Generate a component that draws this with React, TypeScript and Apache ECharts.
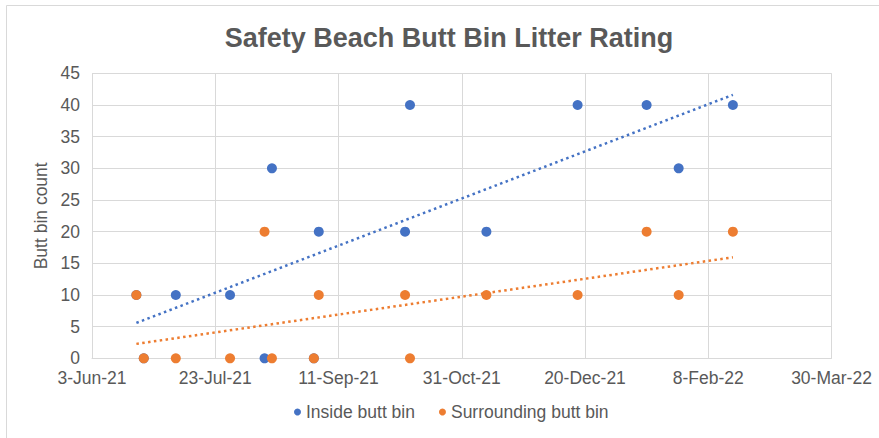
import React, { useEffect, useRef } from "react";
import * as echarts from "echarts";

const chartTitle = "Safety Beach Butt Bin Litter Rating";
const yAxisTitle = "Butt bin count";
const seriesNames = ["Inside butt bin", "Surrounding butt bin"];
const baseDate = "2021-06-03";
const xTickStepDays = 50;
const xMaxDays = 300;
const yMax = 45;
const yStep = 5;

const surveyDates = [
  "2021-06-21",
  "2021-06-24",
  "2021-07-07",
  "2021-07-29",
  "2021-08-12",
  "2021-08-15",
  "2021-09-01",
  "2021-09-03",
  "2021-10-08",
  "2021-10-10",
  "2021-11-10",
  "2021-12-17",
  "2022-01-14",
  "2022-01-27",
  "2022-02-18",
];
const insideBin = [10, 0, 10, 10, 0, 30, 0, 20, 20, 40, 20, 40, 40, 30, 40];
const surroundingBin = [10, 0, 0, 0, 20, 0, 0, 10, 10, 0, 10, 10, 20, 10, 20];

const BLUE = "#4472C4";
const ORANGE = "#ED7D31";
const TEXT = "#595959";
const GRID = "#D9D9D9";
const FONT = "'Liberation Sans', Arial, sans-serif";
const MONTHS = ["Jan", "Feb", "Mar", "Apr", "May", "Jun", "Jul", "Aug", "Sep", "Oct", "Nov", "Dec"];
const DAY_MS = 86400000;

function toUTC(s: string) {
  const [y, m, d] = s.split("-").map(Number);
  return Date.UTC(y, m - 1, d);
}
const baseMs = toUTC(baseDate);
function dayOffset(s: string) {
  return Math.round((toUTC(s) - baseMs) / DAY_MS);
}
function fmtDay(v: number) {
  const dt = new Date(baseMs + v * DAY_MS);
  const yy = String(dt.getUTCFullYear() % 100).padStart(2, "0");
  return `${dt.getUTCDate()}-${MONTHS[dt.getUTCMonth()]}-${yy}`;
}
function trend(xs: number[], ys: number[]) {
  const n = xs.length;
  const mx = xs.reduce((a, b) => a + b, 0) / n;
  const my = ys.reduce((a, b) => a + b, 0) / n;
  let sxy = 0;
  let sxx = 0;
  for (let i = 0; i < n; i++) {
    sxy += (xs[i] - mx) * (ys[i] - my);
    sxx += (xs[i] - mx) * (xs[i] - mx);
  }
  const b = sxy / sxx;
  const a = my - b * mx;
  const x0 = Math.min(...xs);
  const x1 = Math.max(...xs);
  return [
    [x0, a + b * x0],
    [x1, a + b * x1],
  ];
}

export default function App() {
  const ref = useRef<HTMLDivElement>(null);
  useEffect(() => {
    if (!ref.current) return;
    const chart = echarts.init(ref.current, undefined, { renderer: "svg" });
    const xs = surveyDates.map(dayOffset);
    const insidePts = xs.map((x, i) => [x, insideBin[i]]);
    const surrPts = xs.map((x, i) => [x, surroundingBin[i]]);
    const insideTrend = trend(xs, insideBin);
    const surrTrend = trend(xs, surroundingBin);

    chart.setOption({
      animation: false,
      backgroundColor: "#FFFFFF",
      textStyle: { fontFamily: FONT },
      graphic: [
        {
          type: "rect",
          z: -10,
          shape: { x: 6.5, y: 5.5, width: 1200, height: 1000 },
          style: { fill: "none", stroke: GRID, lineWidth: 1 },
          silent: true,
        },
        {
          type: "text",
          x: 449,
          y: 38,
          style: {
            text: chartTitle,
            fill: TEXT,
            font: `bold 27px ${FONT}`,
            textAlign: "center",
            textVerticalAlign: "middle",
          },
        },
      ],
      grid: { left: 92, right: 47.5, top: 73.3, bottom: 79.7, containLabel: false },
      legend: {
        data: seriesNames,
        left: 294,
        top: 403,
        padding: 0,
        itemWidth: 7,
        itemHeight: 7,
        itemGap: 24,
        icon: "circle",
        textStyle: { color: TEXT, fontSize: 17.5, fontFamily: FONT },
      },
      xAxis: {
        type: "value",
        min: 0,
        max: xMaxDays,
        interval: xTickStepDays,
        axisLine: { show: true, lineStyle: { color: GRID, width: 1 } },
        axisTick: { show: false },
        axisLabel: {
          color: TEXT,
          fontSize: 17.5,
          margin: 11,
          formatter: (v: number) => fmtDay(v),
        },
        splitLine: { show: true, lineStyle: { color: GRID, width: 1 } },
      },
      yAxis: {
        type: "value",
        min: 0,
        max: yMax,
        interval: yStep,
        name: yAxisTitle,
        nameLocation: "middle",
        nameGap: 38,
        nameTextStyle: { color: TEXT, fontSize: 17.5, fontFamily: FONT },
        axisLine: { show: false },
        axisTick: { show: false },
        axisLabel: { color: TEXT, fontSize: 17.5, margin: 12 },
        splitLine: { show: true, lineStyle: { color: GRID, width: 1 } },
      },
      series: [
        {
          name: seriesNames[0],
          type: "scatter",
          data: insidePts,
          symbol: "circle",
          symbolSize: 10,
          itemStyle: { color: BLUE, opacity: 1 },
          emphasis: { disabled: true },
          z: 3,
        },
        {
          name: seriesNames[1],
          type: "scatter",
          data: surrPts,
          symbol: "circle",
          symbolSize: 10,
          itemStyle: { color: ORANGE, opacity: 1 },
          emphasis: { disabled: true },
          z: 4,
        },
        {
          name: "Inside trend",
          type: "line",
          data: insideTrend,
          showSymbol: false,
          symbol: "none",
          silent: true,
          lineStyle: { color: BLUE, width: 2.5, type: [2.5, 3.4] },
          z: 5,
        },
        {
          name: "Surrounding trend",
          type: "line",
          data: surrTrend,
          showSymbol: false,
          symbol: "none",
          silent: true,
          lineStyle: { color: ORANGE, width: 2.5, type: [2.5, 3.4] },
          z: 5,
        },
      ],
    });
    return () => chart.dispose();
  }, []);
  return (
    <div
      ref={ref}
      style={{ position: "fixed", left: 0, top: 0, width: 879, height: 438 }}
    />
  );
}
